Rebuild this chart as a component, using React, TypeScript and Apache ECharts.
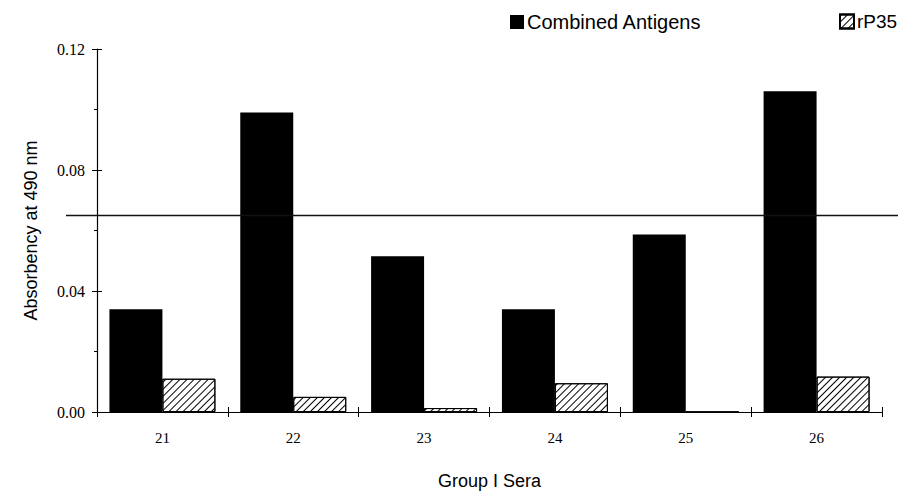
import React, { useEffect, useRef } from "react";
import * as echarts from "echarts";

const categories = ["21", "22", "23", "24", "25", "26"];
const combinedAntigens = [0.034, 0.099, 0.0515, 0.034, 0.0587, 0.106];
const rP35 = [0.011, 0.005, 0.0013, 0.0095, 0, 0.0117];
const cutoff = 0.065;
const yTicks = { min: 0, max: 0.12, interval: 0.04 };

const SANS = "'Liberation Sans', Arial, sans-serif";
const SERIF = "'Liberation Serif', 'Times New Roman', serif";

export default function App() {
  const ref = useRef<HTMLDivElement>(null);
  useEffect(() => {
    if (!ref.current) return;
    const chart = echarts.init(ref.current, null, { renderer: "svg" });
    const hatch = {
      symbol: "rect",
      symbolSize: 1,
      dashArrayX: [1, 0],
      dashArrayY: [1, 4],
      rotation: -Math.PI / 4,
      color: "#000",
      backgroundColor: "#fff",
    };
    const baseY = {
      type: "value",
      min: yTicks.min,
      max: yTicks.max,
      interval: yTicks.interval,
      splitLine: { show: false },
    };
    chart.setOption({
      animation: false,
      backgroundColor: "#fff",
      legend: [
        {
          data: ["Combined Antigens"],
          left: 505,
          top: 7,
          icon: "rect",
          itemWidth: 14,
          itemHeight: 14,
          itemGap: 4,
          textStyle: { fontFamily: SANS, fontSize: 20, color: "#000", padding: [0, 0, 0, -2] },
        },
        {
          data: ["rP35"],
          left: 834,
          top: 7,
          icon: "rect",
          itemWidth: 14,
          itemHeight: 14,
          textStyle: { fontFamily: SANS, fontSize: 19, color: "#000", padding: [0, 0, 0, -2] },
        },
      ],
      grid: { left: 97, right: 16, top: 49, bottom: 80 },
      xAxis: [
        {
          type: "category",
          data: categories,
          name: "Group I Sera",
          nameLocation: "middle",
          nameGap: 60,
          nameTextStyle: { fontFamily: SANS, fontSize: 18, color: "#000" },
          axisLine: { lineStyle: { color: "#000", width: 1.2 } },
          axisTick: { show: true, interval: 0, length: 5, lineStyle: { color: "#000" } },
          axisLabel: { fontFamily: SERIF, fontSize: 15, color: "#000", margin: 18 },
        },
        {
          type: "category",
          data: categories,
          position: "bottom",
          axisLine: { show: false },
          axisTick: { show: true, inside: true, interval: 0, length: 5, lineStyle: { color: "#000" } },
          axisLabel: { show: false },
        },
      ],
      yAxis: [
        {
          ...baseY,
          name: "Absorbency at 490 nm",
          nameLocation: "middle",
          nameGap: 57,
          nameTextStyle: { fontFamily: SANS, fontSize: 18, color: "#000" },
          axisLine: { show: true, lineStyle: { color: "#000", width: 1.2 } },
          axisTick: { show: true, length: 5, lineStyle: { color: "#000" } },
          minorTick: { show: true, splitNumber: 2, length: 3, lineStyle: { color: "#000" } },
          axisLabel: {
            fontFamily: SERIF,
            fontSize: 16,
            color: "#000",
            margin: 12,
            formatter: (v: number) => v.toFixed(2),
          },
        },
        {
          ...baseY,
          position: "left",
          axisLine: { show: false },
          axisTick: { show: true, inside: true, length: 5, lineStyle: { color: "#000" } },
          axisLabel: { show: false },
        },
      ],
      series: [
        {
          name: "Combined Antigens",
          type: "bar",
          data: combinedAntigens,
          barGap: "0%",
          barCategoryGap: "19%",
          itemStyle: { color: "#000" },
        },
        {
          name: "rP35",
          type: "bar",
          data: rP35,
          itemStyle: { color: "#fff", borderColor: "#000", borderWidth: 1, decal: hatch },
        },
      ],
    });
    const yPix = chart.convertToPixel({ yAxisIndex: 0 }, cutoff) as number;
    chart.setOption({
      graphic: [
        {
          type: "line",
          shape: { x1: 66, y1: yPix, x2: 898, y2: yPix },
          style: { stroke: "#111", lineWidth: 1.5 },
          z: 10,
        },
      ],
    });
    return () => chart.dispose();
  }, []);
  return (
    <div
      ref={ref}
      style={{ position: "fixed", left: 0, top: 0, width: 898, height: 495 }}
    />
  );
}
